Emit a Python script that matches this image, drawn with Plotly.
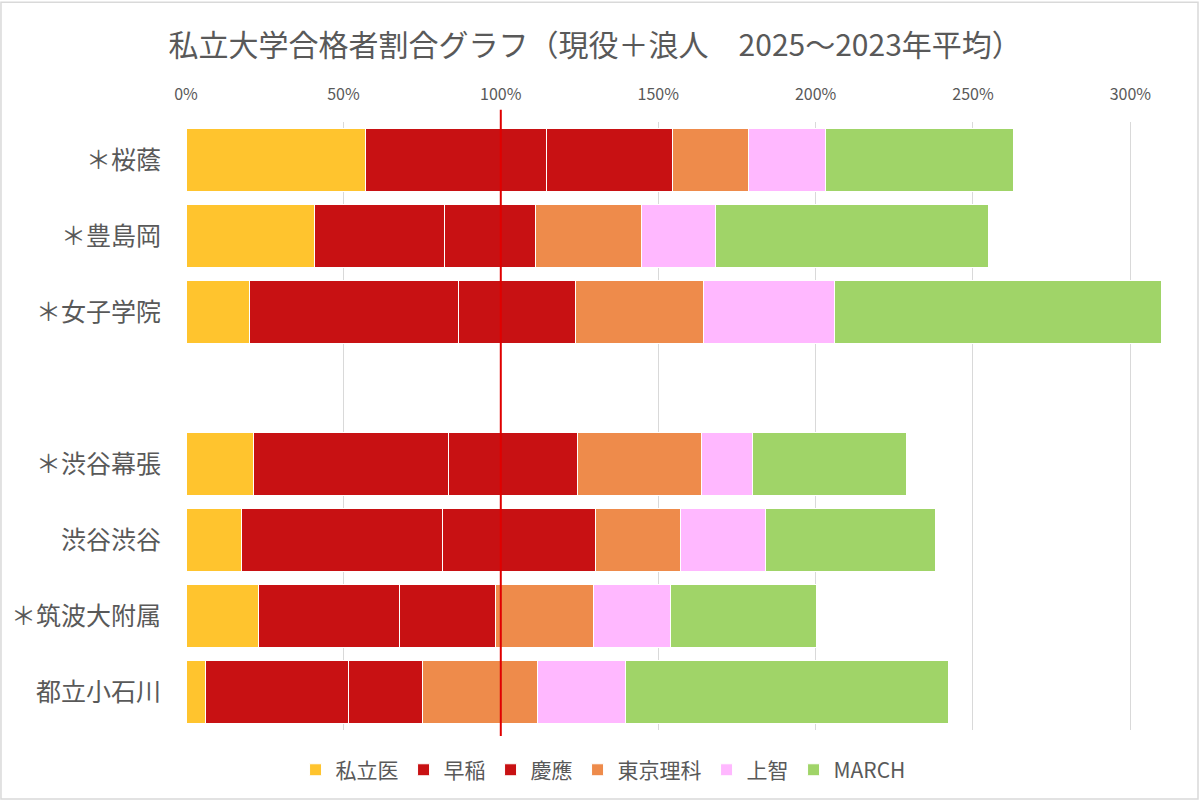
import plotly.graph_objects as go

# schools, top to bottom (" " is the empty spacer row)
schools = ["＊桜蔭", "＊豊島岡", "＊女子学院", " ", "＊渋谷幕張", "渋谷渋谷", "＊筑波大附属", "都立小石川"]

# pass ratios (%), one list per university group
shiritsu_i = [57.0, 40.9, 20.3, None, 21.5, 17.5, 23.1, 6.3]
waseda = [57.4, 41.2, 66.3, None, 61.8, 63.9, 44.7, 45.2]
keio = [40.2, 28.9, 37.2, None, 41.1, 48.7, 30.4, 23.6]
tokyo_rika = [24.2, 33.8, 40.6, None, 39.3, 26.9, 31.1, 36.7]
sophia = [24.5, 23.3, 41.6, None, 16.3, 27.0, 24.6, 27.8]
march = [59.5, 86.7, 104.0, None, 48.9, 54.0, 46.4, 102.5]

series = [
    ("私立医", shiritsu_i, "#FFC42E"),
    ("早稲", waseda, "#C81113"),
    ("慶應", keio, "#C81113"),
    ("東京理科", tokyo_rika, "#EE8B4B"),
    ("上智", sophia, "#FFB8FF"),
    ("MARCH", march, "#A0D468"),
]

FONT = "Noto Sans CJK JP"
GRAY = "#595959"

fig = go.Figure()
for name, vals, color in series:
    fig.add_trace(go.Bar(
        y=schools, x=vals, name=name, orientation="h",
        marker=dict(color=color, line=dict(color="white", width=1)),
        hovertemplate="%{y} " + name + ": %{x}%<extra></extra>",
    ))

# 100% reference line
fig.add_shape(type="line", xref="x", yref="paper", x0=100, x1=100, y0=-0.01, y1=1.02,
              line=dict(color="#E00000", width=2), layer="above")
# outer chart border
fig.add_shape(type="rect", xref="paper", yref="paper",
              x0=-0.189, x1=1.0337, y0=-0.1135, y1=1.197,
              line=dict(color="#D9D9D9", width=1.5), layer="below")

fig.update_layout(
    width=1200, height=802, autosize=False,
    barmode="stack", bargap=0.18,
    plot_bgcolor="white", paper_bgcolor="white",
    margin=dict(l=186, r=35, t=122, b=72, autoexpand=False),
    font=dict(family=FONT, color=GRAY),
    title=dict(text="私立大学合格者割合グラフ（現役＋浪人　2025～2023年平均）",
               x=0.496, xref="container", xanchor="center",
               y=1 - 45 / 802, yanchor="middle",
               font=dict(size=30, color=GRAY, family=FONT)),
    legend=dict(orientation="h", x=0.426, xanchor="center",
                y=-0.066, yanchor="middle", font=dict(size=21, color=GRAY),
                itemwidth=30, traceorder="normal"),
    showlegend=True,
)
fig.update_xaxes(
    side="top", range=[0, 311], dtick=50, ticksuffix="%",
    showgrid=True, gridcolor="#D9D9D9", gridwidth=1, zeroline=False,
    showline=False, ticks="", ticklabelstandoff=18,
    tickfont=dict(size=16, color=GRAY),
)
fig.update_yaxes(
    categoryorder="array", categoryarray=schools, autorange="reversed",
    showgrid=False, zeroline=False, showline=False, ticks="",
    ticklabelstandoff=24, tickfont=dict(size=25, color=GRAY),
)

# drop the default page margin so the chart sits at the window corner
fig.write_html("out.html", config={"displayModeBar": False},
               post_script="document.body.style.margin='0';")
